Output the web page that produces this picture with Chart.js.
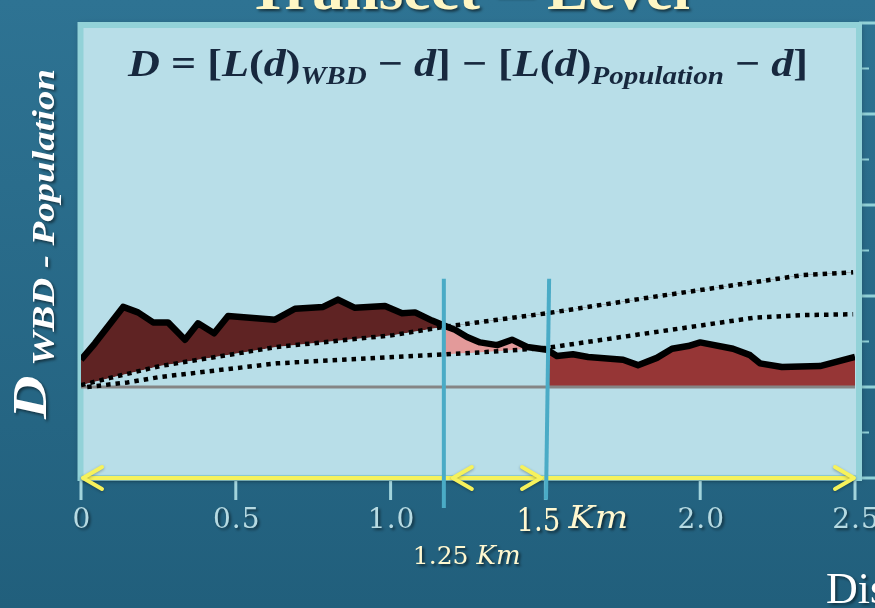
<!DOCTYPE html>
<html><head><meta charset="utf-8">
<script src="https://cdn.jsdelivr.net/npm/chart.js@4.4.1/dist/chart.umd.min.js"></script>
<style>html,body{margin:0;padding:0;background:#2a6a8a;overflow:hidden}canvas{display:block}</style>
</head><body>
<canvas id="c" width="875" height="608"></canvas>
<script>
// ---- data ----
const distKm  = [0.0, 0.045, 0.136, 0.184, 0.233, 0.281, 0.336, 0.378, 0.430, 0.475, 0.627, 0.691, 0.782, 0.830, 0.885, 0.982, 1.037, 1.079, 1.134, 1.169, 1.208, 1.247, 1.289, 1.344, 1.392, 1.441, 1.505, 1.537, 1.589, 1.638, 1.751, 1.799, 1.860, 1.909, 1.961, 2.000, 2.106, 2.161, 2.193, 2.264, 2.387, 2.500];
const dValues = [0.30, 0.48, 0.88, 0.82, 0.71, 0.71, 0.52, 0.70, 0.59, 0.78, 0.74, 0.86, 0.88, 0.96, 0.87, 0.89, 0.81, 0.82, 0.73, 0.68, 0.63, 0.55, 0.49, 0.46, 0.52, 0.44, 0.41, 0.34, 0.36, 0.33, 0.30, 0.24, 0.32, 0.42, 0.45, 0.49, 0.42, 0.35, 0.26, 0.22, 0.23, 0.33];
const upperKm   = [0.0, 0.094, 0.255, 0.633, 1.008, 1.169, 1.505, 1.848, 2.171, 2.332, 2.494];
const upperVals = [0.02, 0.10, 0.23, 0.44, 0.57, 0.66, 0.81, 0.99, 1.15, 1.23, 1.26];
const lowerKm   = [0.02, 0.15, 0.255, 0.633, 1.008, 1.289, 1.505, 1.848, 2.171, 2.332, 2.494];
const lowerVals = [0.0, 0.05, 0.11, 0.26, 0.33, 0.38, 0.43, 0.60, 0.76, 0.79, 0.80];
const xTickValues = [0, 0.5, 1.0, 1.5, 2.0, 2.5];
const xTickLabels = ['0', '0.5', '1.0', '1.5', '2.0', '2.5'];
const yGridValues = [-1, 0, 1, 2, 3, 4];
const markerTopKm = [1.172, 1.512];
const markerBottomKm = [1.172, 1.502];
const markerTopVal = [1.19, 1.19];
const markerBottomVal = [-1.33, -1.24];
const markerLabels = ['1.25', '1.5'];
const unitLabel = 'Km';
const titleWords = ['Transect', '–', 'Level'];
const xAxisTitle = 'Distance';
const yAxisTitle = ['D', ' WBD - Population'];

const pts = (xs, ys) => xs.map((x, i) => ({x, y: ys[i]}));
const curve = pts(distKm, dValues);
const pinkPart = curve.filter(p => p.x >= markerTopKm[0] - 0.01 && p.x <= markerTopKm[1]);
const redPart = curve.filter(p => p.x >= markerBottomKm[1]);

function drawRuns(ctx, runs, x, y, targetW) {
  let w = 0;
  runs.forEach(r => { ctx.font = r.font; r.w = ctx.measureText(r.t).width; w += r.w; });
  const s = targetW ? targetW / w : 1;
  ctx.save(); ctx.translate(x, y); ctx.scale(s, 1);
  let cx = 0;
  runs.forEach(r => { ctx.font = r.font; ctx.fillText(r.t, cx, r.dy || 0); cx += r.w; });
  ctx.restore();
}
function shadow(ctx, a) {
  ctx.shadowColor = 'rgba(0,0,0,' + a + ')'; ctx.shadowOffsetX = 2; ctx.shadowOffsetY = 2; ctx.shadowBlur = 3;
}
function seg(ctx, x1, y1, x2, y2) { ctx.beginPath(); ctx.moveTo(x1, y1); ctx.lineTo(x2, y2); ctx.stroke(); }

const slidePlugin = {
  id: 'slide',
  beforeDraw(chart) {
    const {ctx, width, height} = chart;
    const xs = chart.scales.x, ys = chart.scales.y;
    const g = ctx.createLinearGradient(0, 0, 0, height);
    g.addColorStop(0, '#2e7393'); g.addColorStop(1, '#215f7c');
    ctx.fillStyle = g; ctx.fillRect(0, 0, width, height);
    // title (cut at the top)
    ctx.save(); shadow(ctx, 0.6); ctx.fillStyle = '#fff6c4'; ctx.textBaseline = 'alphabetic';
    drawRuns(ctx, [{t: titleWords[0], font: 'bold 60px "Liberation Serif"'}], 247, 9, 233);
    drawRuns(ctx, [{t: titleWords[1], font: 'bold 60px "Liberation Serif"'}], 497, 9, 36);
    drawRuns(ctx, [{t: titleWords[2], font: 'bold 60px "Liberation Serif"'}], 547, 9, 143);
    ctx.restore();
    const L = xs.getPixelForValue(0), R = xs.getPixelForValue(2.5);
    const T = ys.getPixelForValue(4), B = ys.getPixelForValue(-1);
    // right strip grid
    ctx.save(); ctx.strokeStyle = '#92d2d8';
    ctx.lineWidth = 3;
    yGridValues.forEach(v => { const py = ys.getPixelForValue(v); seg(ctx, R + 4, py, width, py); });
    ctx.lineWidth = 2;
    yGridValues.slice(0, -1).forEach(v => { const py = ys.getPixelForValue(v + 0.5); seg(ctx, R + 5, py, R + 14, py); });
    ctx.restore();
    // panel
    ctx.save(); ctx.shadowColor = 'rgba(0,0,0,0.35)'; ctx.shadowBlur = 6; ctx.shadowOffsetX = 2; ctx.shadowOffsetY = 2;
    ctx.fillStyle = '#b8dee8'; ctx.fillRect(L - 3, T, R - L + 7, B - T);
    ctx.restore();
    ctx.save(); ctx.strokeStyle = '#92d2d8'; ctx.lineWidth = 6;
    ctx.strokeRect(L - 0.5, T + 2, R - L + 4.5, B - T - 2);
    ctx.restore();
  },
  beforeDatasetsDraw(chart) {
    const {ctx} = chart;
    const xs = chart.scales.x, ys = chart.scales.y;
    const yA = ys.getPixelForValue(-1);
    // tick marks
    ctx.save(); ctx.strokeStyle = '#a2d4dc'; ctx.lineWidth = 3;
    xTickValues.forEach(v => { const px = xs.getPixelForValue(v); seg(ctx, px, yA + 3, px, yA + 22); });
    ctx.restore();
    // yellow arrows
    ctx.save(); ctx.strokeStyle = '#f6f25c'; ctx.lineWidth = 4; ctx.lineCap = 'round'; ctx.lineJoin = 'round';
    ctx.shadowColor = 'rgba(0,0,0,0.3)'; ctx.shadowBlur = 3; ctx.shadowOffsetY = 1;
    const x0 = xs.getPixelForValue(xTickValues[0]), x1 = xs.getPixelForValue(xTickValues[xTickValues.length - 1]);
    seg(ctx, x0 + 2, yA, x1 - 2, yA);
    const heads = [
      {px: x0 + 2, dir: -1},
      {px: xs.getPixelForValue(markerTopKm[0]) + 9, dir: -1},
      {px: xs.getPixelForValue(markerBottomKm[1]) - 5, dir: 1},
      {px: x1 - 1, dir: 1}
    ];
    heads.forEach(h => {
      ctx.beginPath();
      ctx.moveTo(h.px - h.dir * 19, yA - 11);
      ctx.lineTo(h.px, yA);
      ctx.lineTo(h.px - h.dir * 19, yA + 11);
      ctx.stroke();
    });
    ctx.restore();
  },
  afterDraw(chart) {
    const {ctx} = chart;
    const xs = chart.scales.x, ys = chart.scales.y;
    const yA = ys.getPixelForValue(-1);
    ctx.save();
    ctx.textBaseline = 'alphabetic';
    // x tick labels
    const special = xTickLabels.indexOf(markerLabels[1]);
    xTickValues.forEach((v, i) => {
      const px = xs.getPixelForValue(v);
      if (i === special) return;
      ctx.save(); shadow(ctx, 0.5); ctx.fillStyle = '#b6dae2';
      ctx.font = '28px "DejaVu Serif"';
      try { ctx.letterSpacing = '1px'; } catch (e) {}
      ctx.textAlign = 'center';
      ctx.fillText(xTickLabels[i], px + 1, yA + 50);
      ctx.restore();
    });
    // 1.5 Km
    {
      const px = xs.getPixelForValue(xTickValues[special]);
      ctx.save(); shadow(ctx, 0.6); ctx.fillStyle = '#fff8d0'; ctx.textAlign = 'left';
      drawRuns(ctx, [{t: xTickLabels[special], font: '32px "DejaVu Serif"'}], px - 29, yA + 53, 44);
      drawRuns(ctx, [{t: unitLabel, font: 'italic 32px "DejaVu Serif"'}], px + 23, yA + 50, 60);
      ctx.restore();
    }
    // 1.25 Km
    {
      const px = xs.getPixelForValue(markerTopKm[0]);
      ctx.save(); shadow(ctx, 0.6); ctx.fillStyle = '#fff8d0'; ctx.textAlign = 'left';
      ctx.font = '25px "DejaVu Serif"';
      ctx.fillText(markerLabels[0], px - 31, yA + 86);
      const w = ctx.measureText(markerLabels[0] + ' ').width;
      ctx.font = 'italic 26px "DejaVu Serif"';
      ctx.fillText(unitLabel, px - 31 + w, yA + 86);
      ctx.restore();
    }
    // x axis title (cut)
    ctx.save(); shadow(ctx, 0.5); ctx.fillStyle = '#ffffff'; ctx.textAlign = 'left';
    ctx.font = '44px "Liberation Serif"';
    ctx.fillText(xAxisTitle, 826, 603);
    ctx.restore();
    // formula
    ctx.save(); ctx.fillStyle = '#17283e'; ctx.textAlign = 'left';
    const I = 'italic bold 38px "Liberation Serif"', U = 'bold 38px "Liberation Serif"', S = 'italic bold 25px "Liberation Serif"';
    drawRuns(ctx, [
      {t: 'D', font: I}, {t: ' = ', font: U}, {t: '[', font: U}, {t: 'L', font: I}, {t: '(', font: U}, {t: 'd', font: I}, {t: ')', font: U},
      {t: 'WBD', font: S, dy: 8}, {t: ' − ', font: U}, {t: 'd', font: I}, {t: ']', font: U}, {t: ' − ', font: U},
      {t: '[', font: U}, {t: 'L', font: I}, {t: '(', font: U}, {t: 'd', font: I}, {t: ')', font: U},
      {t: 'Population', font: S, dy: 8}, {t: ' − ', font: U}, {t: 'd', font: I}, {t: ']', font: U}
    ], 128, 76, 680);
    ctx.restore();
    // y axis title
    ctx.save(); shadow(ctx, 0.5); ctx.fillStyle = '#ffffff'; ctx.textAlign = 'left';
    ctx.translate(46, 419); ctx.rotate(-Math.PI / 2);
    drawRuns(ctx, [
      {t: yAxisTitle[0], font: 'italic bold 48px "Liberation Serif"'},
      {t: yAxisTitle[1], font: 'italic bold 31px "Liberation Serif"', dy: 8}
    ], 0, 0, 350);
    ctx.restore();
    ctx.restore();
  }
};

new Chart(document.getElementById('c'), {
  type: 'line',
  data: {
    datasets: [
      { label: 'markerA', data: [{x: markerTopKm[0], y: markerTopVal[0]}, {x: markerBottomKm[0], y: markerBottomVal[0]}],
        borderColor: '#4aabc6', borderWidth: 4, clip: false, order: 0, fill: false },
      { label: 'markerB', data: [{x: markerTopKm[1], y: markerTopVal[1]}, {x: markerBottomKm[1], y: markerBottomVal[1]}],
        borderColor: '#4aabc6', borderWidth: 4, clip: false, order: 0, fill: false },
      { label: 'D', data: curve, borderColor: '#000000', borderWidth: 6.5, borderJoinStyle: 'round', order: 1,
        fill: {target: 3, above: '#5f2323', below: 'rgba(0,0,0,0)'} },
      { label: 'upper', data: pts(upperKm, upperVals), borderColor: '#000000', borderWidth: 4.5, borderDash: [4.5, 5], order: 2, fill: false },
      { label: 'lower', data: pts(lowerKm, lowerVals), borderColor: '#000000', borderWidth: 4.5, borderDash: [4.5, 5], order: 2, fill: false },
      { label: 'baseline', data: [{x: xTickValues[0], y: 0}, {x: xTickValues[xTickValues.length - 1], y: 0}],
        borderColor: '#858585', borderWidth: 3, order: 3, fill: false },
      { label: 'pink', data: pinkPart, borderWidth: 0, borderColor: 'rgba(0,0,0,0)', order: 4,
        fill: {target: 4, above: '#e39a9a', below: 'rgba(0,0,0,0)'} },
      { label: 'red', data: redPart, borderWidth: 0, borderColor: 'rgba(0,0,0,0)', order: 4,
        fill: {value: 0}, backgroundColor: '#963636' }
    ]
  },
  options: {
    responsive: false, animation: false,
    layout: {padding: {left: 81, right: 20, top: 23, bottom: 130}},
    scales: {
      x: {type: 'linear', min: 0, max: 2.5, display: false},
      y: {type: 'linear', min: -1, max: 4, display: false}
    },
    elements: {point: {radius: 0}, line: {tension: 0}},
    plugins: {legend: {display: false}, tooltip: {enabled: false}, filler: {drawTime: 'beforeDatasetsDraw'}}
  },
  plugins: [slidePlugin]
});
</script>
</body></html>
